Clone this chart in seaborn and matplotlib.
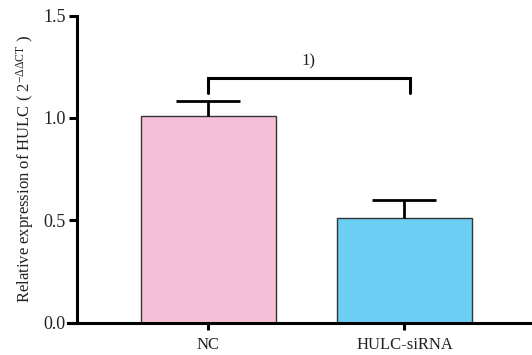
import numpy as np
import pandas as pd
import matplotlib
matplotlib.use("Agg")
import matplotlib.pyplot as plt
import seaborn as sns

categories = ["NC", "HULC-siRNA"]
means = [1.01, 0.51]
errors = [0.075, 0.09]
colors = ["#F6C0D8", "#6BCFF4"]
yticks = [0.0, 0.5, 1.0, 1.5]
sig_label = "1)"

sns.set_theme(style="ticks")
plt.rcParams["font.family"] = ["Liberation Serif", "Noto Sans CJK SC"]
plt.rcParams["mathtext.fontset"] = "custom"
plt.rcParams["mathtext.rm"] = "Liberation Serif"
plt.rcParams["mathtext.it"] = "Liberation Serif"

fig = plt.figure(figsize=(5.32, 3.55), dpi=100)
ax = fig.add_axes([0.144, 0.091, 0.856, 0.865])

df = pd.DataFrame({"group": categories, "value": means})
sns.barplot(data=df, x="group", y="value", hue="group", palette=colors,
            saturation=1, width=0.69, edgecolor="#333333", linewidth=1.0,
            legend=False, ax=ax, errorbar=None)

x = np.arange(len(categories))
err = ax.errorbar(x, means, yerr=[np.zeros(len(means)), errors], fmt="none",
                  ecolor="black", elinewidth=2.0, capsize=23, capthick=2.0, zorder=3)
caps = err[1]
if len(caps) > 0:
    caps[0].set_visible(False)

# significance bracket
y_top = 1.194
y_leg = 1.124
ax.plot([0, 0, 1.03, 1.03], [y_leg, y_top, y_top, y_leg], color="black",
        lw=2.2, clip_on=False, solid_joinstyle="miter")
ax.text(0.51, 1.235, sig_label, ha="center", va="bottom", fontsize=12, color="#222222")

ax.set_xlim(-0.671, 1.65)
ax.set_ylim(0, 1.5)
ax.set_yticks(yticks)
ax.set_yticklabels([f"{t:.1f}" for t in yticks], fontsize=13, color="#222222")
ax.set_xticks(x)
ax.set_xticklabels(categories, fontsize=12, color="#222222")
ax.set_xlabel("")
ax.set_ylabel(r"Relative expression of HULC ( 2$^{-\Delta\Delta CT}$ )", fontsize=12,
              labelpad=5, color="#222222")

for s in ["top", "right"]:
    ax.spines[s].set_visible(False)
for s in ["left", "bottom"]:
    ax.spines[s].set_linewidth(2.2)
    ax.spines[s].set_color("black")
ax.spines["bottom"].set_bounds(-0.716, 1.65)
ax.tick_params(axis="y", width=2.2, length=6, color="black", pad=2)
ax.tick_params(axis="x", width=2.2, length=5, color="black", pad=5)

fig.savefig("out.png", dpi=100)
